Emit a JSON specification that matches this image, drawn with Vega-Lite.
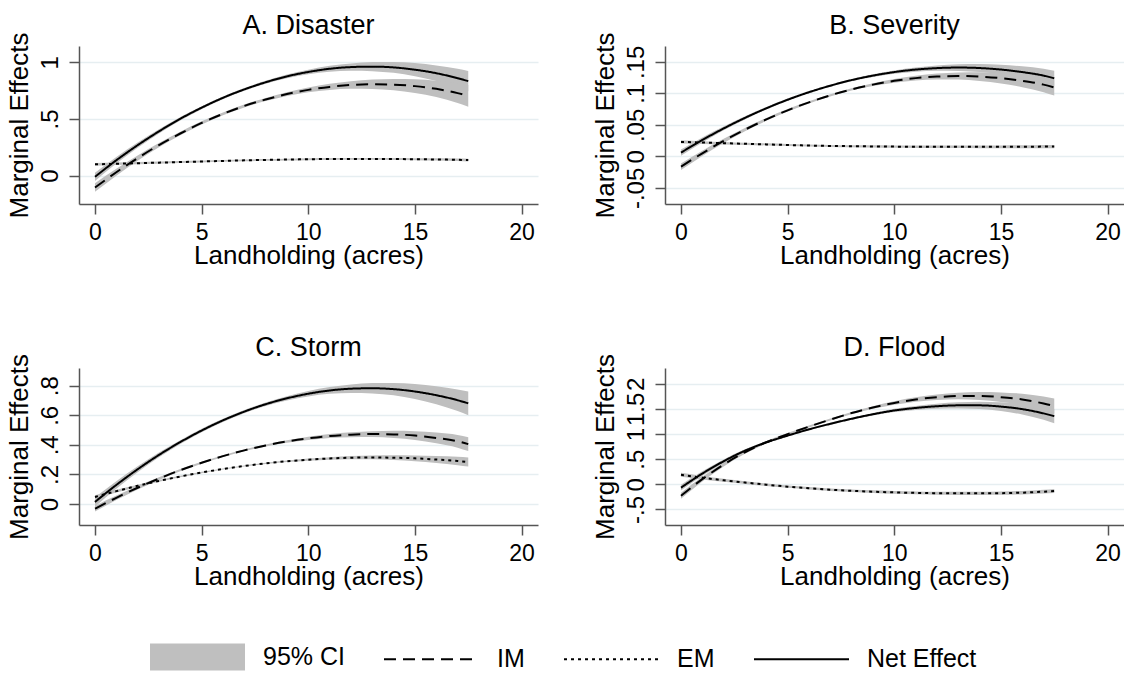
{
"$schema": "https://vega.github.io/schema/vega-lite/v6.json",
"padding": {"left": 5, "top": 12, "right": 0, "bottom": 0},
"config": {
 "font": "Liberation Sans",
 "view": {"stroke": null},
 "axis": {"labelFontSize": 23, "titleFontSize": 26, "labelColor": "#000", "titleColor": "#000", "titleFontWeight": "normal", "domainColor": "#555", "domainWidth": 1.5, "tickColor": "#555", "tickWidth": 1.5, "tickSize": 10, "gridColor": "#e6eef1", "gridWidth": 1.5, "labelFlush": false, "labelOverlap": false},
 "axisY": {"labelFontSize": 24},
 "title": {"fontSize": 27, "fontWeight": "normal", "color": "#000", "frame": "group", "offset": -8},
 "legend": {"labelFontSize": 25, "labelColor": "#000"}
},
"datasets": {"d": [
{"p":"A","s":"Net Effect","x":0,"y":-0.010,"lo":-0.046,"hi":0.026},
{"p":"A","s":"Net Effect","x":1,"y":0.136,"lo":0.107,"hi":0.165},
{"p":"A","s":"Net Effect","x":2,"y":0.269,"lo":0.246,"hi":0.292},
{"p":"A","s":"Net Effect","x":3,"y":0.391,"lo":0.373,"hi":0.409},
{"p":"A","s":"Net Effect","x":4,"y":0.502,"lo":0.487,"hi":0.517},
{"p":"A","s":"Net Effect","x":5,"y":0.600,"lo":0.587,"hi":0.613},
{"p":"A","s":"Net Effect","x":6,"y":0.687,"lo":0.675,"hi":0.699},
{"p":"A","s":"Net Effect","x":7,"y":0.761,"lo":0.749,"hi":0.773},
{"p":"A","s":"Net Effect","x":8,"y":0.824,"lo":0.811,"hi":0.837},
{"p":"A","s":"Net Effect","x":9,"y":0.876,"lo":0.860,"hi":0.892},
{"p":"A","s":"Net Effect","x":10,"y":0.915,"lo":0.895,"hi":0.935},
{"p":"A","s":"Net Effect","x":11,"y":0.943,"lo":0.917,"hi":0.969},
{"p":"A","s":"Net Effect","x":12,"y":0.958,"lo":0.926,"hi":0.990},
{"p":"A","s":"Net Effect","x":13,"y":0.962,"lo":0.922,"hi":1.002},
{"p":"A","s":"Net Effect","x":14,"y":0.955,"lo":0.907,"hi":1.003},
{"p":"A","s":"Net Effect","x":15,"y":0.935,"lo":0.877,"hi":0.993},
{"p":"A","s":"Net Effect","x":16,"y":0.904,"lo":0.835,"hi":0.973},
{"p":"A","s":"Net Effect","x":17,"y":0.860,"lo":0.777,"hi":0.943},
{"p":"A","s":"Net Effect","x":17.5,"y":0.834,"lo":0.744,"hi":0.924},
{"p":"A","s":"IM","x":0,"y":-0.105,"lo":-0.143,"hi":-0.067},
{"p":"A","s":"IM","x":1,"y":0.030,"lo":0.000,"hi":0.060},
{"p":"A","s":"IM","x":2,"y":0.155,"lo":0.131,"hi":0.179},
{"p":"A","s":"IM","x":3,"y":0.270,"lo":0.251,"hi":0.289},
{"p":"A","s":"IM","x":4,"y":0.372,"lo":0.356,"hi":0.388},
{"p":"A","s":"IM","x":5,"y":0.465,"lo":0.451,"hi":0.479},
{"p":"A","s":"IM","x":6,"y":0.545,"lo":0.532,"hi":0.558},
{"p":"A","s":"IM","x":7,"y":0.615,"lo":0.602,"hi":0.628},
{"p":"A","s":"IM","x":8,"y":0.672,"lo":0.658,"hi":0.686},
{"p":"A","s":"IM","x":9,"y":0.720,"lo":0.703,"hi":0.737},
{"p":"A","s":"IM","x":10,"y":0.757,"lo":0.736,"hi":0.778},
{"p":"A","s":"IM","x":11,"y":0.783,"lo":0.756,"hi":0.810},
{"p":"A","s":"IM","x":12,"y":0.800,"lo":0.766,"hi":0.834},
{"p":"A","s":"IM","x":13,"y":0.806,"lo":0.764,"hi":0.848},
{"p":"A","s":"IM","x":14,"y":0.803,"lo":0.753,"hi":0.853},
{"p":"A","s":"IM","x":15,"y":0.790,"lo":0.730,"hi":0.850},
{"p":"A","s":"IM","x":16,"y":0.766,"lo":0.694,"hi":0.838},
{"p":"A","s":"IM","x":17,"y":0.728,"lo":0.641,"hi":0.815},
{"p":"A","s":"IM","x":17.5,"y":0.704,"lo":0.609,"hi":0.799},
{"p":"A","s":"EM","x":0,"y":0.100,"lo":0.088,"hi":0.112},
{"p":"A","s":"EM","x":1,"y":0.105,"lo":0.094,"hi":0.116},
{"p":"A","s":"EM","x":2,"y":0.110,"lo":0.100,"hi":0.120},
{"p":"A","s":"EM","x":3,"y":0.115,"lo":0.106,"hi":0.124},
{"p":"A","s":"EM","x":4,"y":0.120,"lo":0.111,"hi":0.129},
{"p":"A","s":"EM","x":5,"y":0.125,"lo":0.117,"hi":0.133},
{"p":"A","s":"EM","x":6,"y":0.130,"lo":0.122,"hi":0.138},
{"p":"A","s":"EM","x":7,"y":0.135,"lo":0.127,"hi":0.143},
{"p":"A","s":"EM","x":8,"y":0.139,"lo":0.131,"hi":0.147},
{"p":"A","s":"EM","x":9,"y":0.142,"lo":0.134,"hi":0.150},
{"p":"A","s":"EM","x":10,"y":0.145,"lo":0.137,"hi":0.153},
{"p":"A","s":"EM","x":11,"y":0.147,"lo":0.139,"hi":0.155},
{"p":"A","s":"EM","x":12,"y":0.148,"lo":0.140,"hi":0.156},
{"p":"A","s":"EM","x":13,"y":0.148,"lo":0.140,"hi":0.156},
{"p":"A","s":"EM","x":14,"y":0.147,"lo":0.138,"hi":0.156},
{"p":"A","s":"EM","x":15,"y":0.145,"lo":0.136,"hi":0.154},
{"p":"A","s":"EM","x":16,"y":0.143,"lo":0.133,"hi":0.153},
{"p":"A","s":"EM","x":17,"y":0.140,"lo":0.129,"hi":0.151},
{"p":"A","s":"EM","x":17.5,"y":0.138,"lo":0.126,"hi":0.150},
{"p":"B","s":"Net Effect","x":0,"y":0.006,"lo":0.001,"hi":0.011},
{"p":"B","s":"Net Effect","x":1,"y":0.026,"lo":0.022,"hi":0.030},
{"p":"B","s":"Net Effect","x":2,"y":0.0443,"lo":0.0413,"hi":0.0473},
{"p":"B","s":"Net Effect","x":3,"y":0.0611,"lo":0.0587,"hi":0.0635},
{"p":"B","s":"Net Effect","x":4,"y":0.0763,"lo":0.0743,"hi":0.0783},
{"p":"B","s":"Net Effect","x":5,"y":0.0899,"lo":0.0881,"hi":0.0917},
{"p":"B","s":"Net Effect","x":6,"y":0.1019,"lo":0.1003,"hi":0.1035},
{"p":"B","s":"Net Effect","x":7,"y":0.1122,"lo":0.1106,"hi":0.1138},
{"p":"B","s":"Net Effect","x":8,"y":0.1211,"lo":0.1193,"hi":0.1229},
{"p":"B","s":"Net Effect","x":9,"y":0.1282,"lo":0.1260,"hi":0.1304},
{"p":"B","s":"Net Effect","x":10,"y":0.1338,"lo":0.1311,"hi":0.1365},
{"p":"B","s":"Net Effect","x":11,"y":0.1378,"lo":0.1344,"hi":0.1412},
{"p":"B","s":"Net Effect","x":12,"y":0.1401,"lo":0.1358,"hi":0.1444},
{"p":"B","s":"Net Effect","x":13,"y":0.1410,"lo":0.1357,"hi":0.1463},
{"p":"B","s":"Net Effect","x":14,"y":0.1402,"lo":0.1338,"hi":0.1466},
{"p":"B","s":"Net Effect","x":15,"y":0.1378,"lo":0.1301,"hi":0.1455},
{"p":"B","s":"Net Effect","x":16,"y":0.1338,"lo":0.1246,"hi":0.1430},
{"p":"B","s":"Net Effect","x":17,"y":0.1282,"lo":0.1172,"hi":0.1392},
{"p":"B","s":"Net Effect","x":17.5,"y":0.1240,"lo":0.1120,"hi":0.1360},
{"p":"B","s":"IM","x":0,"y":-0.0164,"lo":-0.0216,"hi":-0.0112},
{"p":"B","s":"IM","x":1,"y":0.0049,"lo":0.0007,"hi":0.0091},
{"p":"B","s":"IM","x":2,"y":0.0245,"lo":0.0212,"hi":0.0278},
{"p":"B","s":"IM","x":3,"y":0.0424,"lo":0.0398,"hi":0.0450},
{"p":"B","s":"IM","x":4,"y":0.0586,"lo":0.0564,"hi":0.0608},
{"p":"B","s":"IM","x":5,"y":0.0731,"lo":0.0712,"hi":0.0750},
{"p":"B","s":"IM","x":6,"y":0.0858,"lo":0.0841,"hi":0.0875},
{"p":"B","s":"IM","x":7,"y":0.0969,"lo":0.0952,"hi":0.0986},
{"p":"B","s":"IM","x":8,"y":0.1063,"lo":0.1044,"hi":0.1082},
{"p":"B","s":"IM","x":9,"y":0.1139,"lo":0.1116,"hi":0.1162},
{"p":"B","s":"IM","x":10,"y":0.1199,"lo":0.1169,"hi":0.1229},
{"p":"B","s":"IM","x":11,"y":0.1242,"lo":0.1205,"hi":0.1279},
{"p":"B","s":"IM","x":12,"y":0.1267,"lo":0.1220,"hi":0.1314},
{"p":"B","s":"IM","x":13,"y":0.1276,"lo":0.1219,"hi":0.1333},
{"p":"B","s":"IM","x":14,"y":0.1267,"lo":0.1197,"hi":0.1337},
{"p":"B","s":"IM","x":15,"y":0.1241,"lo":0.1157,"hi":0.1325},
{"p":"B","s":"IM","x":16,"y":0.1199,"lo":0.1099,"hi":0.1299},
{"p":"B","s":"IM","x":17,"y":0.1139,"lo":0.1019,"hi":0.1259},
{"p":"B","s":"IM","x":17.5,"y":0.1095,"lo":0.0965,"hi":0.1225},
{"p":"B","s":"EM","x":0,"y":0.0230,"lo":0.0205,"hi":0.0255},
{"p":"B","s":"EM","x":1,"y":0.0220,"lo":0.0198,"hi":0.0242},
{"p":"B","s":"EM","x":2,"y":0.0210,"lo":0.0190,"hi":0.0230},
{"p":"B","s":"EM","x":3,"y":0.0200,"lo":0.0182,"hi":0.0218},
{"p":"B","s":"EM","x":4,"y":0.0190,"lo":0.0173,"hi":0.0207},
{"p":"B","s":"EM","x":5,"y":0.0180,"lo":0.0164,"hi":0.0196},
{"p":"B","s":"EM","x":6,"y":0.0172,"lo":0.0156,"hi":0.0188},
{"p":"B","s":"EM","x":7,"y":0.0166,"lo":0.0150,"hi":0.0182},
{"p":"B","s":"EM","x":8,"y":0.0162,"lo":0.0146,"hi":0.0178},
{"p":"B","s":"EM","x":9,"y":0.0158,"lo":0.0141,"hi":0.0175},
{"p":"B","s":"EM","x":10,"y":0.0155,"lo":0.0137,"hi":0.0173},
{"p":"B","s":"EM","x":11,"y":0.0153,"lo":0.0134,"hi":0.0172},
{"p":"B","s":"EM","x":12,"y":0.0152,"lo":0.0132,"hi":0.0172},
{"p":"B","s":"EM","x":13,"y":0.0151,"lo":0.0131,"hi":0.0171},
{"p":"B","s":"EM","x":14,"y":0.0151,"lo":0.0130,"hi":0.0172},
{"p":"B","s":"EM","x":15,"y":0.0152,"lo":0.0130,"hi":0.0174},
{"p":"B","s":"EM","x":16,"y":0.0153,"lo":0.0130,"hi":0.0176},
{"p":"B","s":"EM","x":17,"y":0.0155,"lo":0.0130,"hi":0.0180},
{"p":"B","s":"EM","x":17.5,"y":0.0156,"lo":0.0130,"hi":0.0182},
{"p":"C","s":"Net Effect","x":0,"y":0.014,"lo":-0.018,"hi":0.046},
{"p":"C","s":"Net Effect","x":1,"y":0.129,"lo":0.104,"hi":0.154},
{"p":"C","s":"Net Effect","x":2,"y":0.235,"lo":0.215,"hi":0.255},
{"p":"C","s":"Net Effect","x":3,"y":0.332,"lo":0.316,"hi":0.348},
{"p":"C","s":"Net Effect","x":4,"y":0.419,"lo":0.406,"hi":0.432},
{"p":"C","s":"Net Effect","x":5,"y":0.497,"lo":0.485,"hi":0.509},
{"p":"C","s":"Net Effect","x":6,"y":0.566,"lo":0.555,"hi":0.577},
{"p":"C","s":"Net Effect","x":7,"y":0.625,"lo":0.614,"hi":0.636},
{"p":"C","s":"Net Effect","x":8,"y":0.675,"lo":0.663,"hi":0.687},
{"p":"C","s":"Net Effect","x":9,"y":0.715,"lo":0.701,"hi":0.729},
{"p":"C","s":"Net Effect","x":10,"y":0.746,"lo":0.728,"hi":0.764},
{"p":"C","s":"Net Effect","x":11,"y":0.768,"lo":0.745,"hi":0.791},
{"p":"C","s":"Net Effect","x":12,"y":0.780,"lo":0.751,"hi":0.809},
{"p":"C","s":"Net Effect","x":13,"y":0.783,"lo":0.748,"hi":0.818},
{"p":"C","s":"Net Effect","x":14,"y":0.777,"lo":0.735,"hi":0.819},
{"p":"C","s":"Net Effect","x":15,"y":0.761,"lo":0.710,"hi":0.812},
{"p":"C","s":"Net Effect","x":16,"y":0.736,"lo":0.675,"hi":0.797},
{"p":"C","s":"Net Effect","x":17,"y":0.702,"lo":0.629,"hi":0.775},
{"p":"C","s":"Net Effect","x":17.5,"y":0.681,"lo":0.601,"hi":0.761},
{"p":"C","s":"IM","x":0,"y":-0.032,"lo":-0.051,"hi":-0.013},
{"p":"C","s":"IM","x":1,"y":0.042,"lo":0.027,"hi":0.057},
{"p":"C","s":"IM","x":2,"y":0.110,"lo":0.098,"hi":0.122},
{"p":"C","s":"IM","x":3,"y":0.172,"lo":0.163,"hi":0.181},
{"p":"C","s":"IM","x":4,"y":0.229,"lo":0.221,"hi":0.237},
{"p":"C","s":"IM","x":5,"y":0.279,"lo":0.272,"hi":0.286},
{"p":"C","s":"IM","x":6,"y":0.324,"lo":0.318,"hi":0.330},
{"p":"C","s":"IM","x":7,"y":0.363,"lo":0.357,"hi":0.369},
{"p":"C","s":"IM","x":8,"y":0.396,"lo":0.389,"hi":0.403},
{"p":"C","s":"IM","x":9,"y":0.423,"lo":0.415,"hi":0.431},
{"p":"C","s":"IM","x":10,"y":0.444,"lo":0.433,"hi":0.455},
{"p":"C","s":"IM","x":11,"y":0.460,"lo":0.447,"hi":0.473},
{"p":"C","s":"IM","x":12,"y":0.469,"lo":0.452,"hi":0.486},
{"p":"C","s":"IM","x":13,"y":0.473,"lo":0.453,"hi":0.493},
{"p":"C","s":"IM","x":14,"y":0.471,"lo":0.446,"hi":0.496},
{"p":"C","s":"IM","x":15,"y":0.463,"lo":0.433,"hi":0.493},
{"p":"C","s":"IM","x":16,"y":0.447,"lo":0.411,"hi":0.483},
{"p":"C","s":"IM","x":17,"y":0.424,"lo":0.381,"hi":0.467},
{"p":"C","s":"IM","x":17.5,"y":0.405,"lo":0.358,"hi":0.452},
{"p":"C","s":"EM","x":0,"y":0.048,"lo":0.036,"hi":0.060},
{"p":"C","s":"EM","x":1,"y":0.087,"lo":0.077,"hi":0.097},
{"p":"C","s":"EM","x":2,"y":0.123,"lo":0.115,"hi":0.131},
{"p":"C","s":"EM","x":3,"y":0.156,"lo":0.150,"hi":0.162},
{"p":"C","s":"EM","x":4,"y":0.186,"lo":0.181,"hi":0.191},
{"p":"C","s":"EM","x":5,"y":0.213,"lo":0.2085,"hi":0.2175},
{"p":"C","s":"EM","x":6,"y":0.237,"lo":0.233,"hi":0.241},
{"p":"C","s":"EM","x":7,"y":0.257,"lo":0.253,"hi":0.261},
{"p":"C","s":"EM","x":8,"y":0.275,"lo":0.2705,"hi":0.2795},
{"p":"C","s":"EM","x":9,"y":0.289,"lo":0.2835,"hi":0.2945},
{"p":"C","s":"EM","x":10,"y":0.300,"lo":0.293,"hi":0.307},
{"p":"C","s":"EM","x":11,"y":0.308,"lo":0.299,"hi":0.317},
{"p":"C","s":"EM","x":12,"y":0.313,"lo":0.302,"hi":0.324},
{"p":"C","s":"EM","x":13,"y":0.315,"lo":0.302,"hi":0.328},
{"p":"C","s":"EM","x":14,"y":0.313,"lo":0.297,"hi":0.329},
{"p":"C","s":"EM","x":15,"y":0.309,"lo":0.290,"hi":0.328},
{"p":"C","s":"EM","x":16,"y":0.301,"lo":0.278,"hi":0.324},
{"p":"C","s":"EM","x":17,"y":0.291,"lo":0.263,"hi":0.319},
{"p":"C","s":"EM","x":17.5,"y":0.284,"lo":0.254,"hi":0.314},
{"p":"D","s":"Net Effect","x":0,"y":-0.067,"lo":-0.123,"hi":-0.011},
{"p":"D","s":"Net Effect","x":1,"y":0.213,"lo":0.168,"hi":0.258},
{"p":"D","s":"Net Effect","x":2,"y":0.458,"lo":0.423,"hi":0.493},
{"p":"D","s":"Net Effect","x":3,"y":0.668,"lo":0.640,"hi":0.696},
{"p":"D","s":"Net Effect","x":4,"y":0.833,"lo":0.810,"hi":0.856},
{"p":"D","s":"Net Effect","x":5,"y":0.968,"lo":0.948,"hi":0.988},
{"p":"D","s":"Net Effect","x":6,"y":1.093,"lo":1.074,"hi":1.112},
{"p":"D","s":"Net Effect","x":7,"y":1.203,"lo":1.184,"hi":1.222},
{"p":"D","s":"Net Effect","x":8,"y":1.303,"lo":1.283,"hi":1.323},
{"p":"D","s":"Net Effect","x":9,"y":1.393,"lo":1.368,"hi":1.418},
{"p":"D","s":"Net Effect","x":10,"y":1.468,"lo":1.436,"hi":1.500},
{"p":"D","s":"Net Effect","x":11,"y":1.518,"lo":1.478,"hi":1.558},
{"p":"D","s":"Net Effect","x":12,"y":1.553,"lo":1.503,"hi":1.603},
{"p":"D","s":"Net Effect","x":13,"y":1.570,"lo":1.509,"hi":1.631},
{"p":"D","s":"Net Effect","x":14,"y":1.570,"lo":1.496,"hi":1.644},
{"p":"D","s":"Net Effect","x":15,"y":1.545,"lo":1.456,"hi":1.634},
{"p":"D","s":"Net Effect","x":16,"y":1.495,"lo":1.388,"hi":1.602},
{"p":"D","s":"Net Effect","x":17,"y":1.410,"lo":1.282,"hi":1.538},
{"p":"D","s":"Net Effect","x":17.5,"y":1.355,"lo":1.215,"hi":1.495},
{"p":"D","s":"IM","x":0,"y":-0.228,"lo":-0.288,"hi":-0.168},
{"p":"D","s":"IM","x":1,"y":0.102,"lo":0.054,"hi":0.150},
{"p":"D","s":"IM","x":2,"y":0.392,"lo":0.354,"hi":0.430},
{"p":"D","s":"IM","x":3,"y":0.637,"lo":0.607,"hi":0.667},
{"p":"D","s":"IM","x":4,"y":0.837,"lo":0.812,"hi":0.862},
{"p":"D","s":"IM","x":5,"y":0.997,"lo":0.975,"hi":1.019},
{"p":"D","s":"IM","x":6,"y":1.147,"lo":1.127,"hi":1.167},
{"p":"D","s":"IM","x":7,"y":1.287,"lo":1.267,"hi":1.307},
{"p":"D","s":"IM","x":8,"y":1.417,"lo":1.395,"hi":1.439},
{"p":"D","s":"IM","x":9,"y":1.527,"lo":1.500,"hi":1.554},
{"p":"D","s":"IM","x":10,"y":1.617,"lo":1.583,"hi":1.651},
{"p":"D","s":"IM","x":11,"y":1.687,"lo":1.644,"hi":1.730},
{"p":"D","s":"IM","x":12,"y":1.732,"lo":1.678,"hi":1.786},
{"p":"D","s":"IM","x":13,"y":1.757,"lo":1.691,"hi":1.823},
{"p":"D","s":"IM","x":14,"y":1.757,"lo":1.677,"hi":1.837},
{"p":"D","s":"IM","x":15,"y":1.732,"lo":1.636,"hi":1.828},
{"p":"D","s":"IM","x":16,"y":1.687,"lo":1.572,"hi":1.802},
{"p":"D","s":"IM","x":17,"y":1.607,"lo":1.469,"hi":1.745},
{"p":"D","s":"IM","x":17.5,"y":1.557,"lo":1.407,"hi":1.707},
{"p":"D","s":"EM","x":0,"y":0.188,"lo":0.148,"hi":0.228},
{"p":"D","s":"EM","x":1,"y":0.130,"lo":0.095,"hi":0.165},
{"p":"D","s":"EM","x":2,"y":0.080,"lo":0.050,"hi":0.110},
{"p":"D","s":"EM","x":3,"y":0.035,"lo":0.008,"hi":0.062},
{"p":"D","s":"EM","x":4,"y":-0.008,"lo":-0.033,"hi":0.017},
{"p":"D","s":"EM","x":5,"y":-0.047,"lo":-0.071,"hi":-0.023},
{"p":"D","s":"EM","x":6,"y":-0.080,"lo":-0.104,"hi":-0.056},
{"p":"D","s":"EM","x":7,"y":-0.108,"lo":-0.133,"hi":-0.083},
{"p":"D","s":"EM","x":8,"y":-0.130,"lo":-0.156,"hi":-0.104},
{"p":"D","s":"EM","x":9,"y":-0.148,"lo":-0.175,"hi":-0.121},
{"p":"D","s":"EM","x":10,"y":-0.161,"lo":-0.189,"hi":-0.133},
{"p":"D","s":"EM","x":11,"y":-0.171,"lo":-0.200,"hi":-0.142},
{"p":"D","s":"EM","x":12,"y":-0.177,"lo":-0.207,"hi":-0.147},
{"p":"D","s":"EM","x":13,"y":-0.180,"lo":-0.211,"hi":-0.149},
{"p":"D","s":"EM","x":14,"y":-0.180,"lo":-0.212,"hi":-0.148},
{"p":"D","s":"EM","x":15,"y":-0.177,"lo":-0.210,"hi":-0.144},
{"p":"D","s":"EM","x":16,"y":-0.167,"lo":-0.202,"hi":-0.132},
{"p":"D","s":"EM","x":17,"y":-0.147,"lo":-0.185,"hi":-0.109},
{"p":"D","s":"EM","x":17.5,"y":-0.133,"lo":-0.173,"hi":-0.093}
]},
"columns": 2,
"bounds": "flush",
"spacing": {"row": 164, "column": 127},
"concat": [
 {
  "width": 459, "height": 158,
  "title": {"text": "A. Disaster"},
  "data": {"name": "d"},
  "transform": [{"filter": "datum.p == 'A'"}],
  "encoding": {"x": {"field": "x", "type": "quantitative", "scale": {"domain": [-0.75, 20.77], "nice": false, "zero": false}, "axis": {"values": [0, 5, 10, 15, 20], "title": "Landholding (acres)", "grid": false, "labelPadding": 7, "titlePadding": -2}}},
  "layer": [
   {"mark": {"type": "area", "color": "#bfbfbf", "interpolate": "monotone"},
    "encoding": {"y": {"field": "lo", "type": "quantitative", "scale": {"domain": [-0.25, 1.144], "nice": false, "zero": false}, "axis": {"values": [0, 0.5, 1], "title": "Marginal Effects", "labelAngle": -90, "labelAlign": "center", "labelBaseline": "alphabetic", "labelPadding": 12, "grid": true, "labelExpr": "replace(toString(datum.value), '0.', '.')", "titlePadding": 6}}, "y2": {"field": "hi"}, "detail": {"field": "s"}}},
   {"mark": {"type": "line", "color": "black", "strokeWidth": 2, "interpolate": "monotone"},
    "encoding": {"y": {"field": "y", "type": "quantitative", "scale": {"domain": [-0.25, 1.144], "nice": false, "zero": false}, "axis": {"values": [0, 0.5, 1], "title": "Marginal Effects", "labelAngle": -90, "labelAlign": "center", "labelBaseline": "alphabetic", "labelPadding": 12, "grid": true, "labelExpr": "replace(toString(datum.value), '0.', '.')", "titlePadding": 6}},
     "strokeDash": {"field": "s", "type": "nominal", "scale": {"domain": ["95% CI", "IM", "EM", "Net Effect"], "range": [[1, 0], [12, 7], [3, 4], [1, 0]]},
      "legend": {"orient": "none", "legendX": 70, "legendY": 562, "direction": "horizontal", "title": null, "symbolSize": 9025, "symbolStrokeWidth": 2, "symbolStrokeColor": "#000", "labelOffset": 17, "columnPadding": 35, "labelFontSize": 25, "labelLimit": 300,
       "encode": {"symbols": {"update": {"shape": {"signal": "datum.value == '95% CI' ? 'M-1,-0.285H1V0.285H-1Z' : 'stroke'"}, "fill": {"signal": "datum.value == '95% CI' ? '#bfbfbf' : 'transparent'"}, "stroke": {"signal": "datum.value == '95% CI' ? 'transparent' : '#000'"}}}}}}}}
  ]
 },
 {
  "width": 459, "height": 158,
  "title": {"text": "B. Severity"},
  "data": {"name": "d"},
  "transform": [{"filter": "datum.p == 'B'"}],
  "encoding": {"x": {"field": "x", "type": "quantitative", "scale": {"domain": [-0.75, 20.77], "nice": false, "zero": false}, "axis": {"values": [0, 5, 10, 15, 20], "title": "Landholding (acres)", "grid": false, "labelPadding": 7, "titlePadding": -2}}},
  "layer": [
   {"mark": {"type": "area", "color": "#bfbfbf", "interpolate": "monotone"},
    "encoding": {"y": {"field": "lo", "type": "quantitative", "scale": {"domain": [-0.0756, 0.1752], "nice": false, "zero": false}, "axis": {"values": [-0.05, 0, 0.05, 0.1, 0.15], "title": "Marginal Effects", "labelAngle": -90, "labelAlign": "center", "labelBaseline": "alphabetic", "labelPadding": 12, "grid": true, "labelExpr": "replace(toString(datum.value), '0.', '.')", "titlePadding": 6}}, "y2": {"field": "hi"}, "detail": {"field": "s"}}},
   {"mark": {"type": "line", "color": "black", "strokeWidth": 2, "interpolate": "monotone"},
    "encoding": {"y": {"field": "y", "type": "quantitative", "scale": {"domain": [-0.0756, 0.1752], "nice": false, "zero": false}, "axis": {"values": [-0.05, 0, 0.05, 0.1, 0.15], "title": "Marginal Effects", "labelAngle": -90, "labelAlign": "center", "labelBaseline": "alphabetic", "labelPadding": 12, "grid": true, "labelExpr": "replace(toString(datum.value), '0.', '.')", "titlePadding": 6}},
     "strokeDash": {"field": "s", "type": "nominal", "scale": {"domain": ["95% CI", "IM", "EM", "Net Effect"], "range": [[1, 0], [12, 7], [3, 4], [1, 0]]}, "legend": null}}}
  ]
 },
 {
  "width": 459, "height": 157,
  "title": {"text": "C. Storm"},
  "data": {"name": "d"},
  "transform": [{"filter": "datum.p == 'C'"}],
  "encoding": {"x": {"field": "x", "type": "quantitative", "scale": {"domain": [-0.75, 20.77], "nice": false, "zero": false}, "axis": {"values": [0, 5, 10, 15, 20], "title": "Landholding (acres)", "grid": false, "labelPadding": 7, "titlePadding": -2}}},
  "layer": [
   {"mark": {"type": "area", "color": "#bfbfbf", "interpolate": "monotone"},
    "encoding": {"y": {"field": "lo", "type": "quantitative", "scale": {"domain": [-0.142, 0.92], "nice": false, "zero": false}, "axis": {"values": [0, 0.2, 0.4, 0.6, 0.8], "title": "Marginal Effects", "labelAngle": -90, "labelAlign": "center", "labelBaseline": "alphabetic", "labelPadding": 12, "grid": true, "labelExpr": "replace(toString(datum.value), '0.', '.')", "titlePadding": 6}}, "y2": {"field": "hi"}, "detail": {"field": "s"}}},
   {"mark": {"type": "line", "color": "black", "strokeWidth": 2, "interpolate": "monotone"},
    "encoding": {"y": {"field": "y", "type": "quantitative", "scale": {"domain": [-0.142, 0.92], "nice": false, "zero": false}, "axis": {"values": [0, 0.2, 0.4, 0.6, 0.8], "title": "Marginal Effects", "labelAngle": -90, "labelAlign": "center", "labelBaseline": "alphabetic", "labelPadding": 12, "grid": true, "labelExpr": "replace(toString(datum.value), '0.', '.')", "titlePadding": 6}},
     "strokeDash": {"field": "s", "type": "nominal", "scale": {"domain": ["95% CI", "IM", "EM", "Net Effect"], "range": [[1, 0], [12, 7], [3, 4], [1, 0]]}, "legend": null}}}
  ]
 },
 {
  "width": 459, "height": 157,
  "title": {"text": "D. Flood"},
  "data": {"name": "d"},
  "transform": [{"filter": "datum.p == 'D'"}],
  "encoding": {"x": {"field": "x", "type": "quantitative", "scale": {"domain": [-0.75, 20.77], "nice": false, "zero": false}, "axis": {"values": [0, 5, 10, 15, 20], "title": "Landholding (acres)", "grid": false, "labelPadding": 7, "titlePadding": -2}}},
  "layer": [
   {"mark": {"type": "area", "color": "#bfbfbf", "interpolate": "monotone"},
    "encoding": {"y": {"field": "lo", "type": "quantitative", "scale": {"domain": [-0.81, 2.313], "nice": false, "zero": false}, "axis": {"values": [-0.5, 0, 0.5, 1, 1.5, 2], "title": "Marginal Effects", "labelAngle": -90, "labelAlign": "center", "labelBaseline": "alphabetic", "labelPadding": 12, "grid": true, "labelExpr": "replace(toString(datum.value), '0.', '.')", "titlePadding": 6}}, "y2": {"field": "hi"}, "detail": {"field": "s"}}},
   {"mark": {"type": "line", "color": "black", "strokeWidth": 2, "interpolate": "monotone"},
    "encoding": {"y": {"field": "y", "type": "quantitative", "scale": {"domain": [-0.81, 2.313], "nice": false, "zero": false}, "axis": {"values": [-0.5, 0, 0.5, 1, 1.5, 2], "title": "Marginal Effects", "labelAngle": -90, "labelAlign": "center", "labelBaseline": "alphabetic", "labelPadding": 12, "grid": true, "labelExpr": "replace(toString(datum.value), '0.', '.')", "titlePadding": 6}},
     "strokeDash": {"field": "s", "type": "nominal", "scale": {"domain": ["95% CI", "IM", "EM", "Net Effect"], "range": [[1, 0], [12, 7], [3, 4], [1, 0]]}, "legend": null}}}
  ]
 }
]
}
